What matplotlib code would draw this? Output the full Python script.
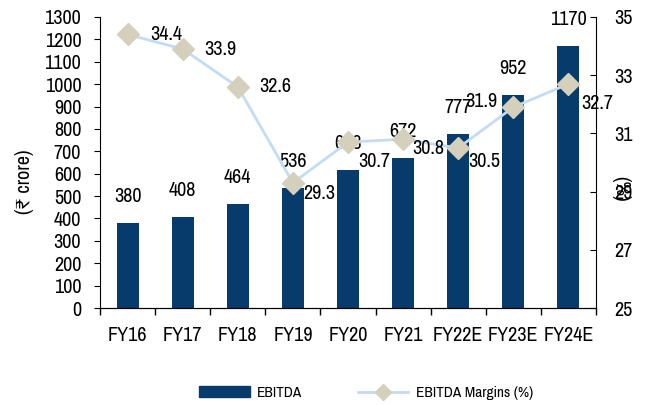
import matplotlib
matplotlib.use("Agg")
import matplotlib.pyplot as plt
import matplotlib.patches as mpatches
import matplotlib.lines as mlines
import numpy as np

plt.rcParams['font.family'] = ['Archivo Narrow', 'DejaVu Sans']

years = ["FY16", "FY17", "FY18", "FY19", "FY20", "FY21", "FY22E", "FY23E", "FY24E"]
ebitda = [380, 408, 464, 536, 618, 672, 777, 952, 1170]
margins = [34.4, 33.9, 32.6, 29.3, 30.7, 30.8, 30.5, 31.9, 32.7]

# label offsets for the margin values (points)
marg_off = [(28, 0), (27, 0), (27, 0), (19, -8), (19, -14), (18, -7), (19, -10), (-23, 4), (21, -14)]

bar_col = "#073B6C"
line_col = "#C3DCF5"
mark_col = "#D4D0BC"
fs = 14.5

fig = plt.figure(figsize=(6.62, 4.05), dpi=100)
ax = fig.add_axes([100/662, 1-308/405, 496/662, 291/405])
x = np.arange(len(years))

ax.bar(x, ebitda, width=0.4, color=bar_col, zorder=2)
ax.set_xlim(-0.5, len(years)-0.5)
ax.set_ylim(0, 1300)
ax.set_yticks(np.arange(0, 1301, 100))
ax.set_xticks(x)
ax.set_xticklabels(years)
ax.set_xticks(np.arange(-0.5, len(years), 1), minor=True)
ax.tick_params(axis='x', which='major', length=0, pad=13, labelsize=fs)
ax.tick_params(axis='x', which='minor', length=5, direction='out', width=1)
ax.tick_params(axis='y', length=4.5, direction='out', pad=9, labelsize=fs)
ax.spines['top'].set_visible(False)
ax.spines['right'].set_visible(False)

for xi, v in zip(x, ebitda):
    ax.annotate(str(v), (xi, v), xytext=(0, 19), textcoords='offset points',
                ha='center', va='center', fontsize=fs, zorder=5)

ax2 = ax.twinx()
ax2.plot(x, margins, color=line_col, lw=2, marker='D', markersize=11,
         markerfacecolor=mark_col, markeredgecolor=mark_col, zorder=3)
ax2.set_ylim(25, 35)
ax2.set_yticks([25, 27, 29, 31, 33, 35])
ax2.tick_params(axis='y', length=4, direction='in', pad=13, labelsize=fs)
ax2.spines['top'].set_visible(False)
ax2.spines['left'].set_visible(False)

for xi, m, off in zip(x, margins, marg_off):
    ax2.annotate(f"{m:.1f}", (xi, m), xytext=off, textcoords='offset points',
                 ha='center', va='center', fontsize=fs, zorder=5)

fig.text(25/662, 1-182/405, "(₹ crore)", rotation=90, ha='center', va='center', fontsize=fs)
fig.text(621/662, 1-189/405, "(%)", rotation=270, ha='center', va='center', fontsize=fs)

h1 = mpatches.Patch(color=bar_col, label="EBITDA")
h2 = mlines.Line2D([], [], color=line_col, lw=2, marker='D', markersize=8,
                   markerfacecolor=mark_col, markeredgecolor=mark_col, label="EBITDA Margins (%)")
fig.legend(handles=[h1, h2], loc='center', bbox_to_anchor=(366/662, 1-393/405), ncol=2,
           frameon=False, fontsize=11, handlelength=3.3, columnspacing=3.6, handletextpad=0.5)

fig.savefig("out.png", dpi=100)
